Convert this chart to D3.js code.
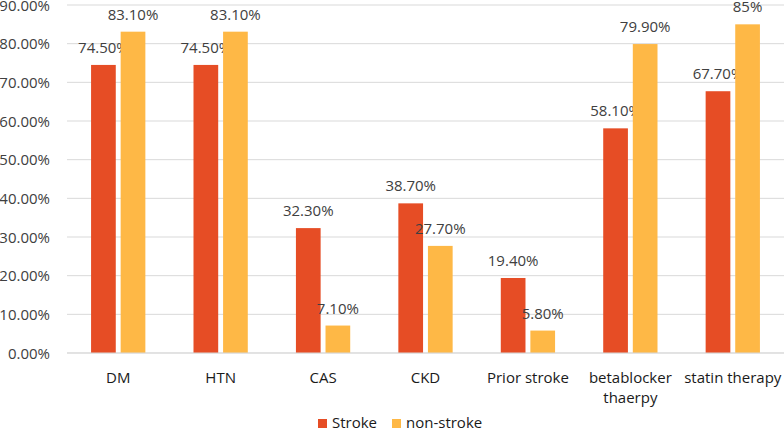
<!DOCTYPE html>
<html><head><meta charset="utf-8">
<script src="https://cdn.jsdelivr.net/npm/d3@7"></script>
<style>body{margin:0;background:#fff;} svg{display:block;font-family:"Open Sans",sans-serif;}</style>
</head><body><svg id="c" width="784" height="429"></svg>
<script>
const categories = [["DM"],["HTN"],["CAS"],["CKD"],["Prior stroke"],["betablocker","thaerpy"],["statin therapy"]];
const strokeVals = [74.5, 74.5, 32.3, 38.7, 19.4, 58.1, 67.7];
const nonStrokeVals = [83.1, 83.1, 7.1, 27.7, 5.8, 79.9, 85];
const strokeLabels = ["74.50%","74.50%","32.30%","38.70%","19.40%","58.10%","67.70%"];
const nonStrokeLabels = ["83.10%","83.10%","7.10%","27.70%","5.80%","79.90%","85%"];
const yTicks = [0,10,20,30,40,50,60,70,80,90];
const seriesNames = ["Stroke","non-stroke"];
const colors = ["#E64D25","#FEB846"];

(function(){
const svg = d3.select("#c");
const mL = 67, mR = 784, mT = 5, mB = 353;
const x = d3.scaleBand().domain(d3.range(categories.length)).range([mL, mR]).paddingInner(0.47).paddingOuter(0.235);
const y = d3.scaleLinear().domain([0,90]).range([mB, mT]);
const bw = x.bandwidth();
const barW = bw*0.455, gap = bw - 2*barW;

svg.append("g").selectAll("line").data(yTicks).join("line")
  .attr("x1", mL).attr("x2", mR).attr("y1", d=>y(d)).attr("y2", d=>y(d))
  .attr("stroke", "#d9d9d9").attr("stroke-width", 1);

const yAxis = d3.axisLeft(y).tickValues(yTicks).tickSize(0).tickPadding(0).tickFormat(d=>d.toFixed(2)+"%");
const ga = svg.append("g").attr("transform", `translate(50,0)`).call(yAxis);
ga.select(".domain").remove();
ga.selectAll("text").attr("font-size", 15).attr("fill", "#404040").attr("font-family", "Open Sans").attr("dy","0.35em");

const series = [strokeVals, nonStrokeVals];
const labels = [strokeLabels, nonStrokeLabels];
series.forEach((vals, s) => {
  const bx = i => x(i) + s*(barW+gap);
  svg.append("g").selectAll("rect").data(vals).join("rect")
    .attr("x", (d,i)=>bx(i)).attr("width", barW)
    .attr("y", d=>y(d)).attr("height", d=>y(0)-y(d))
    .attr("fill", colors[s]);
  svg.append("g").selectAll("text").data(vals).join("text")
    .attr("x", (d,i)=>bx(i)+barW/2).attr("y", d=>y(d)-12)
    .attr("text-anchor","middle").attr("font-size",15).attr("fill","#404040")
    .text((d,i)=>labels[s][i]);
});

svg.append("line").attr("x1",mL).attr("x2",mR).attr("y1",y(0)).attr("y2",y(0)).attr("stroke","#d9d9d9");

const cg = svg.append("g").selectAll("text").data(categories).join("text")
  .attr("x",(d,i)=>x(i)+bw/2).attr("y",383).attr("text-anchor","middle")
  .attr("font-size",15).attr("fill","#1a1a1a");
cg.each(function(d){
  const cx = d3.select(this).attr("x");
  d3.select(this).selectAll("tspan").data(d).join("tspan")
    .attr("x", cx).attr("dy",(t,j)=>j?20:0).text(t=>t);
});

const lg = svg.append("g");
const lx = [318, 392];
seriesNames.forEach((n,i)=>{
  lg.append("rect").attr("x",lx[i]).attr("y",419).attr("width",9).attr("height",9).attr("fill",colors[i]);
  lg.append("text").attr("x",lx[i]+14).attr("y",428).attr("font-size",15).attr("fill","#1a1a1a").text(n);
});
})();
</script></body></html>
